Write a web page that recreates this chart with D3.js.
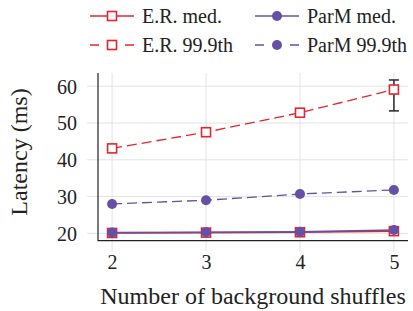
<!DOCTYPE html>
<html>
  <head>
    <meta charset="utf-8">
    <style type="text/css">
      body { margin: 0; background: white; }
      svg { display: block; }
      .grid line { stroke: #e3e3e3; stroke-width: 1px; }
    </style>
  </head>
  <body>
    <script src="https://cdn.jsdelivr.net/npm/d3@7"></script>
    <svg id="chart"></svg>
    <script type="text/javascript">
var width = 413;
var height = 311;
var serif = "'Liberation Serif', 'DejaVu Serif', serif";

// data
var shuffles = [2, 3, 4, 5];
var yTicks = [20, 30, 40, 50, 60];
var erMed = [20.1, 20.2, 20.3, 20.6];
var er999 = [43.1, 47.5, 52.8, 59.1];
var parmMed = [20.2, 20.3, 20.4, 20.9];
var parm999 = [28.0, 29.0, 30.7, 31.8];
// error bar on the last E.R. 99.9th point
var erErr = { x: 5, lo: 53.3, hi: 61.7 };

var red = "#e3262c";
var purple = "#6550a5";

var series = [
  { name: "E.R. 99.9th", values: er999, color: red, dash: "10,5", marker: "square" },
  { name: "ParM 99.9th", values: parm999, color: purple, dash: "10,5", marker: "circle" },
  { name: "E.R. med.", values: erMed, color: red, dash: null, marker: "square" },
  { name: "ParM med.", values: parmMed, color: purple, dash: null, marker: "circle" },
];

var svg = d3.select("#chart")
  .attr("width", width)
  .attr("height", height);

var x = d3.scaleLinear().domain([1.85, 5.15]).range([98, 408]);
var y = d3.scaleLinear().domain([18, 63.6]).range([240.7, 73]);

// grid
var grid = svg.append("g").attr("class", "grid");
grid.selectAll(".gx").data(shuffles).enter()
  .append("line")
  .attr("x1", function(d) { return x(d); })
  .attr("x2", function(d) { return x(d); })
  .attr("y1", y.range()[1])
  .attr("y2", y.range()[0] + 11);
grid.selectAll(".gy").data(yTicks).enter()
  .append("line")
  .attr("x1", x.range()[0] - 11)
  .attr("x2", x.range()[1])
  .attr("y1", function(d) { return y(d); })
  .attr("y2", function(d) { return y(d); });

// axes
var xAxis = d3.axisBottom(x).tickValues(shuffles).tickFormat(d3.format("d")).tickSize(0).tickPadding(24);
var yAxis = d3.axisLeft(y).tickValues(yTicks).tickFormat(d3.format("d")).tickSize(0).tickPadding(21);

var xg = svg.append("g")
  .attr("transform", "translate(0," + y.range()[0] + ")")
  .call(xAxis);
var yg = svg.append("g")
  .attr("transform", "translate(" + x.range()[0] + ",0)")
  .call(yAxis);

[xg, yg].forEach(function(g) {
  g.attr("font-family", serif).attr("font-size", 20);
  g.select(".domain").remove();
  g.selectAll(".tick text").attr("fill", "#222");
});
xg.selectAll(".tick text").attr("dy", "0.2em");
yg.selectAll(".tick text").attr("dy", "0.34em");

// left and bottom axis lines
svg.append("path")
  .attr("d", "M" + x.range()[0] + "," + y.range()[1] + "V" + y.range()[0] + "H" + x.range()[1])
  .attr("fill", "none")
  .attr("stroke", "#222")
  .attr("stroke-width", 1.2);

svg.append("text")
  .attr("x", (x.range()[0] + x.range()[1]) / 2)
  .attr("y", 304)
  .attr("text-anchor", "middle")
  .attr("font-family", serif)
  .attr("font-size", 24)
  .attr("fill", "#222")
  .text("Number of background shuffles");

svg.append("text")
  .attr("transform", "translate(27," + 152 + ") rotate(-90)")
  .attr("text-anchor", "middle")
  .attr("font-family", serif)
  .attr("font-size", 24)
  .attr("fill", "#222")
  .text("Latency (ms)");

var line = d3.line()
  .x(function(d, i) { return x(shuffles[i]); })
  .y(function(d) { return y(d); });

function drawMarker(g, type, color) {
  if (type === "square") {
    g.append("rect")
      .attr("x", -4.5).attr("y", -4.5)
      .attr("width", 9).attr("height", 9)
      .attr("fill", "white")
      .attr("stroke", color)
      .attr("stroke-width", 1.6);
  } else {
    g.append("circle")
      .attr("r", 5)
      .attr("fill", color);
  }
}

// error bar
var eb = svg.append("g").attr("stroke", "#333").attr("stroke-width", 1.6);
eb.append("line")
  .attr("x1", x(erErr.x)).attr("x2", x(erErr.x))
  .attr("y1", y(erErr.hi)).attr("y2", y(erErr.lo));
[erErr.hi, erErr.lo].forEach(function(v) {
  eb.append("line")
    .attr("x1", x(erErr.x) - 5).attr("x2", x(erErr.x) + 5)
    .attr("y1", y(v)).attr("y2", y(v));
});

series.forEach(function(s) {
  var g = svg.append("g");
  g.append("path")
    .attr("d", line(s.values))
    .attr("fill", "none")
    .attr("stroke", s.color)
    .attr("stroke-width", s.dash ? 1.3 : 1.6)
    .attr("stroke-dasharray", s.dash);
  g.selectAll("g.m").data(s.values).enter()
    .append("g")
    .attr("transform", function(d, i) { return "translate(" + x(shuffles[i]) + "," + y(d) + ")"; })
    .each(function() { drawMarker(d3.select(this), s.marker, s.color); });
});

// legend
var legendItems = [
  { name: "E.R. med.", color: red, dash: null, marker: "square", lx: 90, ly: 16 },
  { name: "ParM med.", color: purple, dash: null, marker: "circle", lx: 255, ly: 16 },
  { name: "E.R. 99.9th", color: red, dash: "9,26,9", marker: "square", lx: 90, ly: 45 },
  { name: "ParM 99.9th", color: purple, dash: "9,26,9", marker: "circle", lx: 255, ly: 45 },
];
var legend = svg.append("g");
legendItems.forEach(function(d) {
  var g = legend.append("g").attr("transform", "translate(" + d.lx + "," + d.ly + ")");
  g.append("line")
    .attr("x1", 0).attr("x2", 44)
    .attr("stroke", d.color)
    .attr("stroke-width", 1.4)
    .attr("stroke-dasharray", d.dash);
  var m = g.append("g").attr("transform", "translate(22,0)");
  drawMarker(m, d.marker, d.color);
  g.append("text")
    .attr("x", 52)
    .attr("y", 7)
    .attr("font-family", serif)
    .attr("font-size", 20)
    .attr("fill", "#222")
    .text(d.name);
});
    </script>
  </body>
</html>
